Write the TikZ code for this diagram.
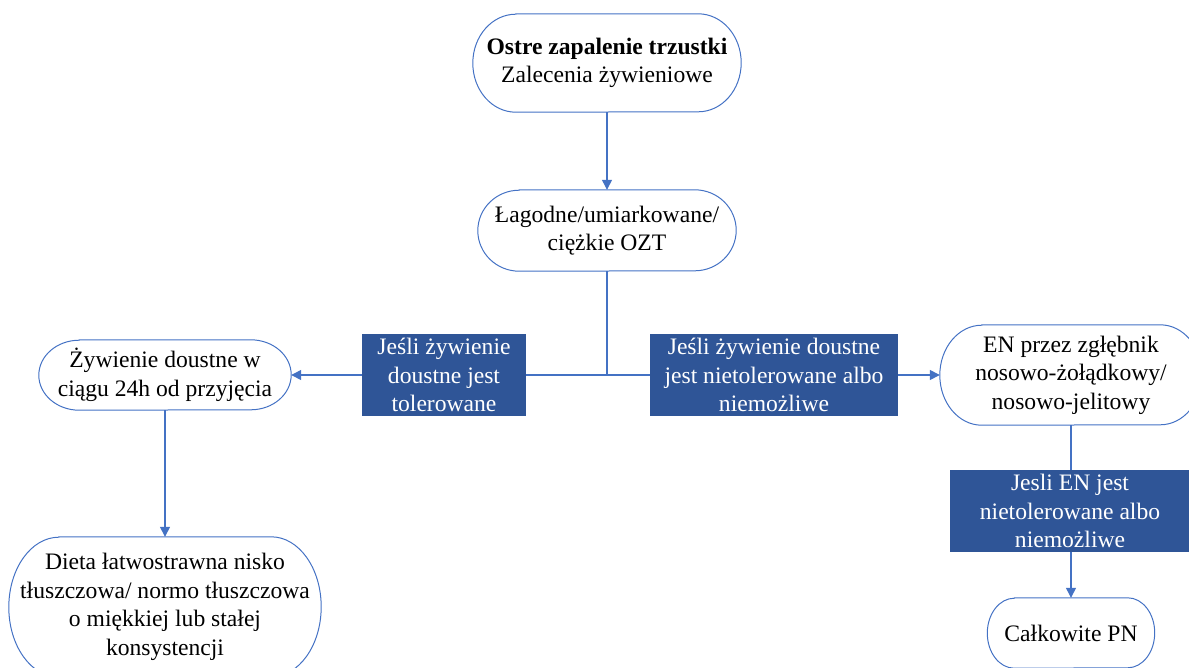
\documentclass[tikz,border=0pt]{standalone}
\usepackage{fontspec}
\setmainfont{Liberation Serif}
\usetikzlibrary{arrows.meta,calc}
\definecolor{lineblue}{HTML}{4472C4}
\definecolor{boxblue}{HTML}{2F5597}
\tikzset{
  base/.style={inner sep=0pt, align=center, font=\fontsize{23.6}{28.5}\selectfont},
  term/.style={base, text=black},
  lab/.style={base, fill=boxblue, text=white},
  conn/.style={draw=lineblue, line width=1.3pt},
  arr/.style={conn, -{Triangle[width=10pt,length=10pt]}},
  termline/.style={draw=lineblue, line width=1pt},
}
\newcommand\termshape[3]{%
  \draw[termline] ([xshift=#2pt]#1.north west) -- ([xshift=-#2pt]#1.north east)
    arc[start angle=90,end angle=-90,x radius=#2pt,y radius=#3pt]
    -- ([xshift=#2pt]#1.south west)
    arc[start angle=270,end angle=90,x radius=#2pt,y radius=#3pt] -- cycle;
}
\begin{document}
\begin{tikzpicture}[x=1pt,y=-1pt]
\useasboundingbox (0,0) rectangle (1189,667);
\clip (0,0) rectangle (1189,667);

\node[term, minimum width=268pt, minimum height=98pt] (top) at (607,63)
  {\textbf{Ostre zapalenie trzustki}\\Zalecenia żywieniowe};
\node[term, minimum width=258pt, minimum height=81pt] (n2) at (607,230.5)
  {Łagodne/umiarkowane/\\ciężkie OZT};
\node[term, minimum width=252pt, minimum height=70pt] (n3) at (165,375)
  {Żywienie doustne w\\ciągu 24h od przyjęcia};
\node[term, minimum width=312pt, minimum height=140pt] (n4) at (165,607)
  {Dieta łatwostrawna nisko\\tłuszczowa/ normo tłuszczowa\\o miękkiej lub stałej\\konsystencji};
\node[term, minimum width=262pt, minimum height=100pt] (n5) at (1071,375)
  {EN przez zgłębnik\\nosowo-żołądkowy/\\nosowo-jelitowy};
\node[term, minimum width=167pt, minimum height=70pt] (n6) at (1071,633)
  {Całkowite PN};

\termshape{top}{43}{49}
\termshape{n2}{41.5}{40.5}
\termshape{n3}{40.5}{35}
\termshape{n4}{50}{70}
\termshape{n5}{42}{50}
\termshape{n6}{27}{35}

\coordinate (j) at (607,375);
\draw[arr] (top.south) -- (n2.north);
\draw[conn] (n2.south) -- (j);
\draw[arr] (j) -- (n3.east);
\draw[arr] (j) -- (n5.west);
\draw[arr] (n3.south) -- (n4.north);
\draw[arr] (n5.south) -- (n6.north);

\node[lab, minimum width=164pt, minimum height=82pt] (b1) at (444,375)
  {Jeśli żywienie\\doustne jest\\tolerowane};
\node[lab, minimum width=248pt, minimum height=82pt] (b2) at (774,375)
  {Jeśli żywienie doustne\\jest nietolerowane albo\\niemożliwe};
\node[lab, minimum width=240pt, minimum height=82pt] (b3) at (1070,511)
  {Jesli EN jest\\nietolerowane albo\\niemożliwe};
\end{tikzpicture}
\end{document}
